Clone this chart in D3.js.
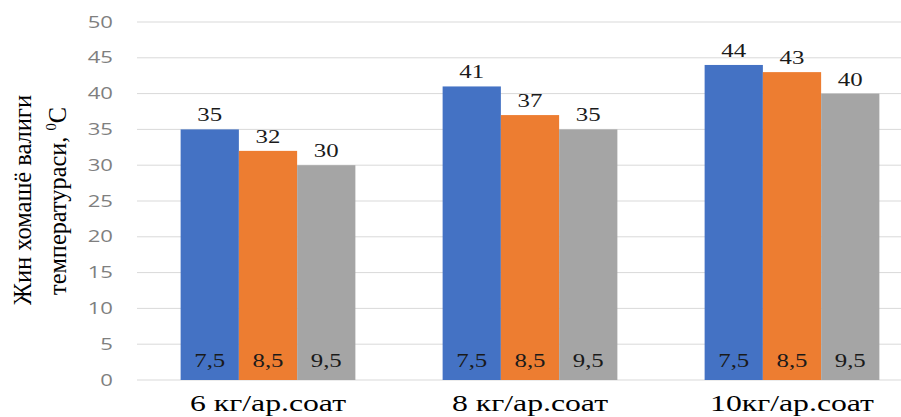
<!DOCTYPE html>
<html>
<head>
<meta charset="utf-8">
<script src="https://cdn.jsdelivr.net/npm/d3@7"></script>
<style>
  html, body { margin: 0; padding: 0; background: #fff; }
  svg { display: block; }
  .serif { font-family: "Liberation Serif", "Times New Roman", serif; }
  .sans { font-family: "Open Sans", "Liberation Sans", "DejaVu Sans", sans-serif; }
</style>
</head>
<body>
<svg id="chart" width="901" height="417"></svg>
<script>
// Feed-rate groups and the temperature reached at each speed
const categories = ["6 кг/ар.соат", "8 кг/ар.соат", "10кг/ар.соат"];
const seriesNames = ["7,5", "8,5", "9,5"];
const seriesColors = ["#4472C4", "#ED7D31", "#A5A5A5"];
const values75 = [35, 41, 44];
const values85 = [32, 37, 43];
const values95 = [30, 35, 40];
const yTicks = [0, 5, 10, 15, 20, 25, 30, 35, 40, 45, 50];
const yTitleLines = ["Жин хомашё валиги", "температураси, "];

const seriesValues = [values75, values85, values95];

const svg = d3.select("#chart");
const width = 901;

// horizontal text is drawn wide, as in the exported figure
const WIDE = 1.38;

const plot = { left: 137, right: 923, top: 22, bottom: 380 };

const x0 = d3.scaleBand()
  .domain(categories)
  .range([plot.left, plot.right])
  .paddingInner(0.333)
  .paddingOuter(0.1665);

const x1 = d3.scaleBand()
  .domain(seriesNames)
  .range([0, x0.bandwidth()])
  .padding(0);

const y = d3.scaleLinear()
  .domain([0, 50])
  .range([plot.bottom, plot.top]);

// place a text node at (x, y) stretched horizontally
function wideText(parent, x, yy, str, cls, size, fill, anchor) {
  const g = parent.append("g").attr("transform", `translate(${x},${yy}) scale(${WIDE},1)`);
  g.append("text")
    .attr("class", cls)
    .attr("text-anchor", anchor || "middle")
    .attr("font-size", size)
    .attr("fill", fill)
    .text(str);
  return g;
}

// Horizontal gridlines
svg.append("g")
  .selectAll("line")
  .data(yTicks)
  .join("line")
  .attr("x1", plot.left)
  .attr("x2", width)
  .attr("y1", d => y(d))
  .attr("y2", d => y(d))
  .attr("stroke", "#D9D9D9")
  .attr("stroke-width", 1);

// Y axis tick labels
const yLab = svg.append("g");
yTicks.forEach(t => wideText(yLab, 113, y(t) + 5.5, t, "sans", 16, "#7F7F7F", "end"));

// Bars
const rows = categories.map((c, i) => ({
  cat: c,
  items: seriesNames.map((s, j) => ({ s, j, v: seriesValues[j][i] }))
}));

const groups = svg.append("g")
  .selectAll("g")
  .data(rows)
  .join("g")
  .attr("transform", d => `translate(${x0(d.cat)},0)`);

groups.selectAll("rect")
  .data(d => d.items)
  .join("rect")
  .attr("x", d => x1(d.s))
  .attr("width", x1.bandwidth())
  .attr("y", d => y(d.v))
  .attr("height", d => y(0) - y(d.v))
  .attr("fill", d => seriesColors[d.j]);

// Value labels above bars and speed labels at the bar bases
groups.each(function (row) {
  const g = d3.select(this);
  row.items.forEach(d => {
    const cx = x1(d.s) + x1.bandwidth() / 2;
    wideText(g, cx, y(d.v) - 8, d.v, "serif", 18, "#1a1a1a");
    wideText(g, cx, y(0) - 13, d.s, "serif", 18, "#1a1a1a");
  });
});

// Category labels
const catG = svg.append("g");
categories.forEach(c => wideText(catG, x0(c) + x0.bandwidth() / 2, 411, c, "serif", 23, "#000"));

// Rotated y-axis title, two lines
const yTitle = svg.append("g");
yTitle.append("text")
  .attr("class", "serif")
  .attr("transform", "translate(31,200) rotate(-90)")
  .attr("text-anchor", "middle")
  .attr("font-size", 25)
  .attr("textLength", 210)
  .attr("lengthAdjust", "spacingAndGlyphs")
  .attr("fill", "#000")
  .text(yTitleLines[0]);

const t2 = yTitle.append("text")
  .attr("class", "serif")
  .attr("text-anchor", "middle")
  .attr("font-size", 25)
  .attr("fill", "#000");
t2.append("tspan").text(yTitleLines[1]);
t2.append("tspan").attr("font-size", 15).attr("dy", -10).text("0");
t2.append("tspan").attr("dy", 10).text("C");
// condense the second line to the same narrow face as the first
const len2 = t2.node().getComputedTextLength();
t2.attr("transform", `translate(66,201) rotate(-90) scale(${188 / len2},1)`);
</script>
</body>
</html>
